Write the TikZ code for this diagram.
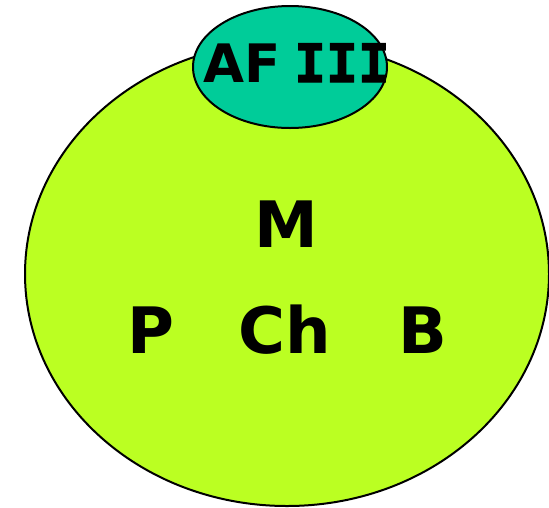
\documentclass[tikz,border=0pt]{standalone}
\usepackage{fontspec}
\setmainfont{DejaVu Sans}
\newfontfamily\monob[FakeBold=2]{DejaVu Sans Mono}
\usetikzlibrary{shapes.geometric}
\definecolor{lime}{RGB}{187,255,34}
\definecolor{teal2}{RGB}{0,204,153}
\tikzset{
  blob/.style={ellipse, draw=black, line width=2pt, inner sep=0pt},
  big/.style={font=\fontsize{64}{64}\selectfont\bfseries, inner sep=0pt, anchor=base},
  small/.style={font=\fontsize{53}{53}\selectfont\bfseries, inner sep=0pt, anchor=base}
}
\begin{document}
\begin{tikzpicture}[x=1pt,y=-1pt]
\useasboundingbox (0,0) rectangle (549,507);
\node[blob, fill=lime, minimum width=524pt, minimum height=464pt] (outer) at (287,274) {};
\node[blob, fill=teal2, minimum width=194pt, minimum height=122pt] (inner) at (290,67) {};
\node[small] (af) at (242,82) {AF};
\node[small] (iii) at (342,82) {\monob III};
\node[big] (m) at (286,247) {M};
\node[big] (p) at (151,353) {P};
\node[big] (ch) at (285,353) {Ch};
\node[big] (b) at (423,353) {B};
\end{tikzpicture}
\end{document}
